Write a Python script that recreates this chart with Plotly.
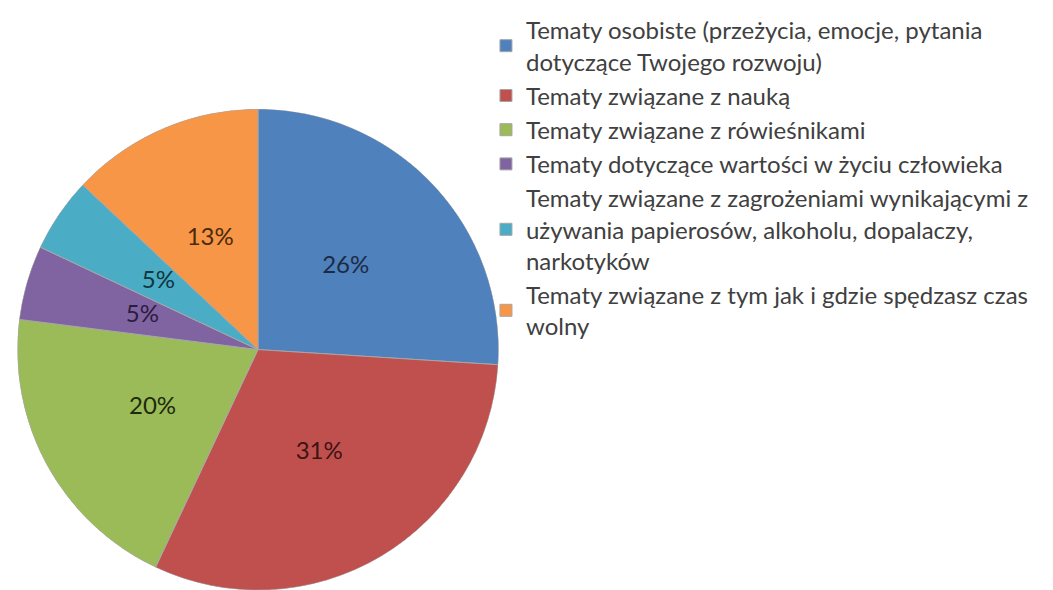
import plotly.graph_objects as go

# categories and shares (%)
labels = [
    "Tematy osobiste (przeżycia, emocje, pytania<br>dotyczące Twojego rozwoju)",
    "Tematy związane z nauką",
    "Tematy związane z rówieśnikami",
    "Tematy dotyczące wartości w życiu człowieka",
    "Tematy związane z zagrożeniami wynikającymi z<br>używania papierosów, alkoholu, dopalaczy,<br>narkotyków",
    "Tematy związane z tym jak i gdzie spędzasz czas<br>wolny",
]
values = [26, 31, 20, 5, 5, 13]

colors = ["#4F81BD", "#C0504D", "#9BBB59", "#8064A2", "#4BACC6", "#F79646"]
text_colors = ["#1b2b45", "#3d1414", "#1e2a0c", "#2b1d3d", "#0f3640", "#4a2a0c"]

# slice angles (clockwise from 12 o'clock) from the shares
total = sum(values)
widths = [v / total * 360 for v in values]
mids = []
cum = 0
for w in widths:
    mids.append(cum + w / 2)
    cum += w

fig = go.Figure()

# one polar bar per slice so the labels can sit on top of them
for lab, w, m, c in zip(labels, widths, mids, colors):
    fig.add_trace(go.Barpolar(
        r=[1],
        theta=[m],
        width=[w],
        name=lab,
        marker=dict(color=c, line=dict(color="#a6a6a6", width=1)),
        hovertemplate=lab + "<extra></extra>",
    ))

# Excel puts the percentage labels halfway out along each slice's bisector
fig.add_trace(go.Scatterpolar(
    r=[0.5] * len(values),
    theta=mids,
    mode="text",
    text=[f"{v}%" for v in values],
    textfont=dict(family="Lato", size=24, color=text_colors),
    hoverinfo="skip",
    showlegend=False,
))

# note: the page body adds an 8px offset, positions below allow for it
fig.update_layout(
    width=1053,
    height=590,
    margin=dict(l=0, r=0, t=0, b=0),
    paper_bgcolor="white",
    plot_bgcolor="white",
    font=dict(family="Lato", color="#404040"),
    polar=dict(
        domain=dict(x=[0.0, 0.4748], y=[0.0136, 0.8611]),
        bgcolor="rgba(0,0,0,0)",
        bargap=0,
        radialaxis=dict(range=[0, 1], visible=False, showgrid=False),
        angularaxis=dict(rotation=90, direction="clockwise", visible=False,
                         showgrid=False, showline=False),
    ),
    legend=dict(
        x=0.4539,
        y=1.039,
        xanchor="left",
        yanchor="top",
        maxheight=700,
        bgcolor="rgba(0,0,0,0)",
        font=dict(family="Lato", size=24, color="#404040"),
        tracegroupgap=0,
        itemclick=False,
    ),
    showlegend=True,
)

fig.write_html("out.html")
